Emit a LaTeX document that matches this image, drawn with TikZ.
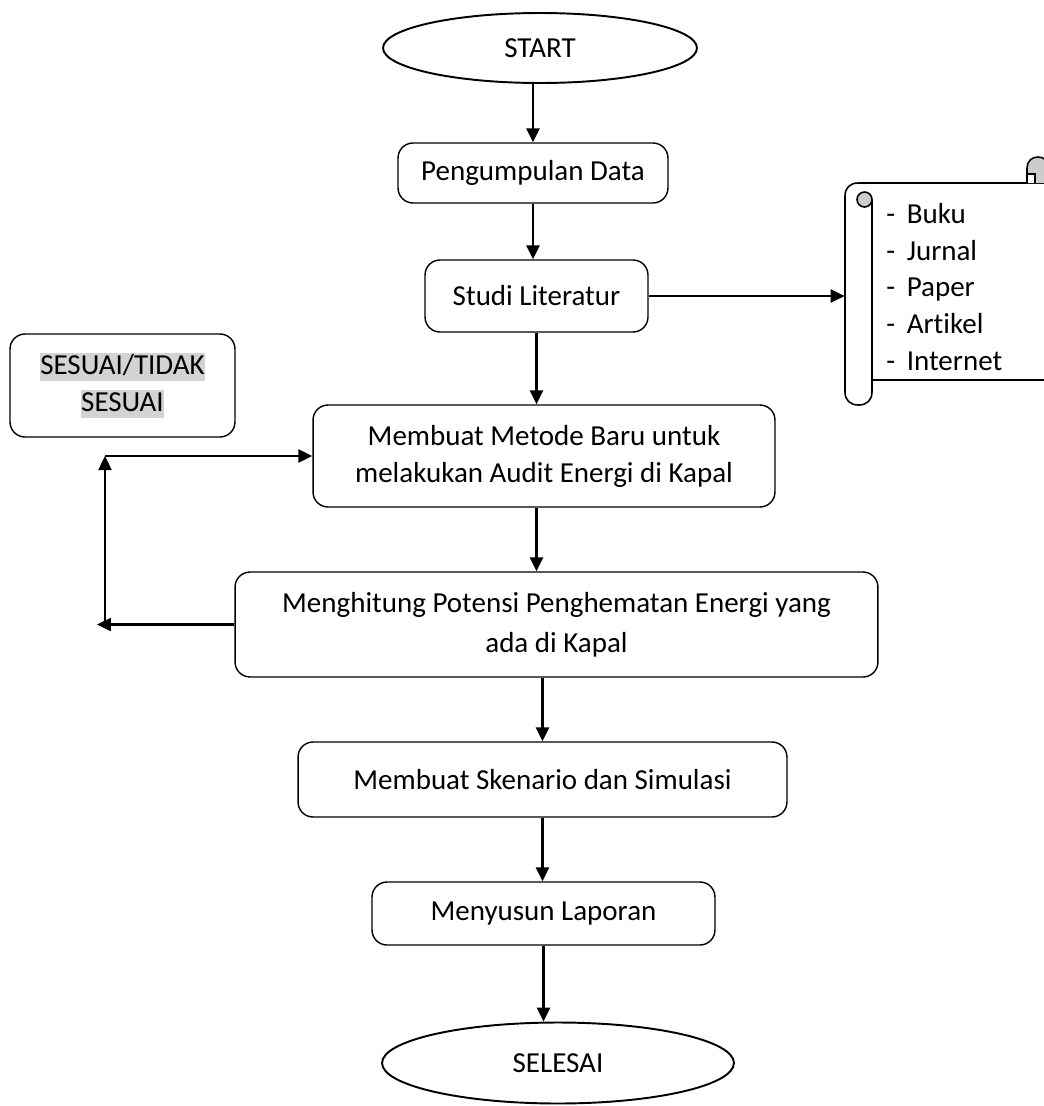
\documentclass[tikz,border=0pt]{standalone}
\usepackage{fontspec}
\setmainfont{Carlito}[Ligatures=NoCommon]
\usepackage{xcolor}
\usetikzlibrary{arrows.meta,positioning,shapes.geometric}
\definecolor{hlgray}{RGB}{211,211,211}
\newcommand{\hlgray}[1]{{\setlength{\fboxsep}{0pt}\colorbox{hlgray}{\rule[-0.22em]{0pt}{0.95em}#1}}}

\begin{document}
\begin{tikzpicture}[
    x=0.02cm, y=-0.02cm,
    font=\fontsize{16.5}{21}\selectfont,
    box/.style={draw, line width=0.8pt, rounded corners=0.3cm, align=center, inner sep=2pt},
    term/.style={draw, ellipse, line width=1.1pt, inner sep=0pt},
    roll/.style={draw, line width=0.9pt},
    flow/.style={-{Triangle[length=2.8mm, width=2.6mm]}, line width=1.4pt}
]
\useasboundingbox (0,0) rectangle (1044,1106);

\node[term, minimum width=6.28cm, minimum height=1.4cm] (start) at (540,48) {START};
\node[box, minimum width=5.4cm, minimum height=1.2cm] (data) at (533,173) {Pengumpulan Data};
\node[box, minimum width=4.46cm, minimum height=1.44cm] (studi) at (536.5,296) {Studi Literatur};
\node[box, minimum width=4.5cm, minimum height=2.06cm] (sesuai) at (122.5,385.5) {\hlgray{SESUAI/TIDAK}\\\hlgray{SESUAI}};
\node[box, minimum width=9.24cm, minimum height=2.04cm] (metode) at (544,456) {Membuat Metode Baru untuk\\melakukan Audit Energi di Kapal};
\node[box, minimum width=12.86cm, minimum height=2.1cm, font=\fontsize{16.5}{22.5}\selectfont] (hitung) at (556.5,624.5) {Menghitung Potensi Penghematan Energi yang\\ada di Kapal};
\node[box, minimum width=9.78cm, minimum height=1.5cm] (skenario) at (542.5,779.5) {Membuat Skenario dan Simulasi};
\node[box, minimum width=6.86cm, minimum height=1.26cm] (laporan) at (543.5,913.5) {Menyusun Laporan};
\node[term, minimum width=7.04cm, minimum height=1.62cm] (selesai) at (558,1063) {SELESAI};

% scroll with the sources
\node[minimum width=3.98cm, minimum height=4.44cm, inner sep=0pt] (scroll) at (944.5,294) {};
\draw[roll] (858,183) -- (1060,183);
\draw[roll] (872,380) -- (1060,380);
\draw[roll] (858,183) .. controls (850,183) and (845,188) .. (845,196) -- (845,392)
    .. controls (845,400) and (850,405) .. (858.5,405)
    .. controls (867,405) and (872,400) .. (872,392) -- (872,200);
\filldraw[roll, fill=gray!40] (864.5,199.5) circle[radius=0.15cm];
\filldraw[roll, fill=gray!40] (1027,183) -- (1027,168) .. controls (1027,161) and (1032,157) .. (1038,157)
    .. controls (1044,157) and (1049,161) .. (1049,168) -- (1049,183);
\filldraw[roll, fill=white] (1027,183) -- (1027,174) -- (1035,174) -- (1035,183);
\node[anchor=west, align=left, inner sep=0pt] (sumber) at (886,287) {-\hspace{0.4em}Buku\\-\hspace{0.4em}Jurnal\\-\hspace{0.4em}Paper\\-\hspace{0.4em}Artikel\\-\hspace{0.4em}Internet};

\coordinate (fbleft) at (97,624.5);
\coordinate (fbcorner) at (105,624.5);
\coordinate (fbtop) at (105,456);

\draw[flow] (start.south -| data) -- (data.north);
\draw[flow] (data.south) -- (data.south |- studi.north);
\draw[flow] (studi.east) -- (studi.east -| scroll.west);
\draw[flow] (studi.south) -- (studi.south |- metode.north);
\draw[flow] (studi.south |- metode.south) -- (studi.south |- hitung.north);
\draw[flow] (skenario.north |- hitung.south) -- (skenario.north);
\draw[flow] (skenario.south) -- (skenario.south |- laporan.north);
\draw[flow] (laporan.south) -- (laporan.south |- selesai.north);
\draw[flow] (hitung.west) -- (fbleft);
\draw[flow] (fbcorner) -- (fbtop);
\draw[flow] (fbtop) -- (metode.west);
\end{tikzpicture}
\end{document}
